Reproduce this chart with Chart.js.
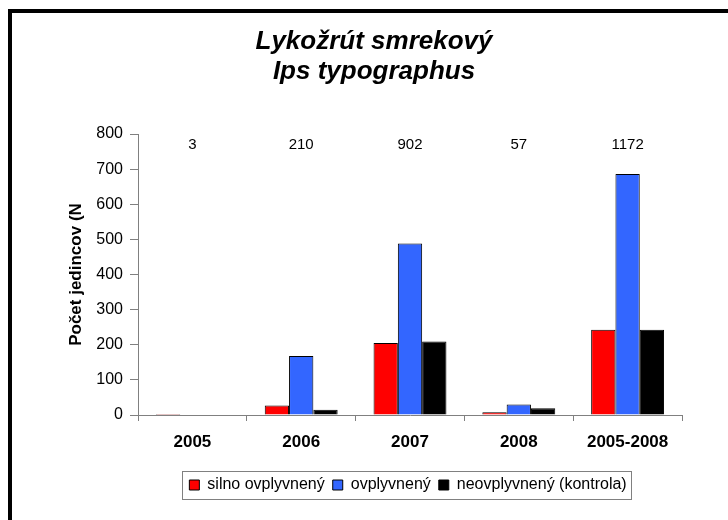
<!DOCTYPE html>
<html><head><meta charset="utf-8">
<script src="https://cdn.jsdelivr.net/npm/chart.js@4.4.1/dist/chart.umd.min.js"></script>
<style>
html,body{margin:0;padding:0;background:#fff;}
#wrap{width:728px;height:520px;position:relative;}
</style></head>
<body><div id="wrap"><canvas id="c" width="728" height="520"></canvas></div>
<script>
const categories = ['2005','2006','2007','2008','2005-2008'];
const silnoOvplyvneny = [3, 27, 205, 8, 243];
const ovplyvneny = [0, 168, 488, 30, 686];
const neovplyvneny = [0, 15, 209, 19, 243];
const totals = ['3','210','902','57','1172'];
const seriesNames = ['silno ovplyvnený','ovplyvnený','neovplyvnený (kontrola)'];
const yTicks = [0,100,200,300,400,500,600,700,800];

const FONT = 'Liberation Sans, Arial, sans-serif';

const framePlugin = {
  id:'frame',
  afterLayout(chart){
    const lg = chart.legend;
    if(lg){ lg.left += 34; lg.right += 34; }
  },
  beforeDraw(chart){
    const ctx = chart.ctx;
    ctx.save();
    ctx.fillStyle='#fff';
    ctx.fillRect(0,0,chart.width,chart.height);
    ctx.fillStyle='#000';
    ctx.fillRect(8,9,720,4);
    ctx.fillRect(8,9,4,511);
    ctx.restore();
  }
};

const totalsPlugin = {
  id:'totals',
  afterDatasetsDraw(chart){
    const ctx = chart.ctx, x = chart.scales.x;
    ctx.save();
    ctx.font = '15px '+FONT;
    ctx.fillStyle='#000';
    ctx.textAlign='center';
    ctx.textBaseline='middle';
    totals.forEach((t,i)=>{ ctx.fillText(t, x.getPixelForValue(i), chart.chartArea.top+11); });
    ctx.restore();
  }
};

const legendBorder = {
  id:'legendBorder',
  afterDraw(chart){
    const lg = chart.legend;
    if(!lg || !lg.legendHitBoxes.length) return;
    const hb = lg.legendHitBoxes;
    const l = hb[0].left - 7, r = hb[hb.length-1].left + hb[hb.length-1].width + 5;
    const t = hb[0].top - 6, b = hb[0].top + hb[0].height + 6;
    const ctx = chart.ctx;
    ctx.save();
    ctx.strokeStyle='#808080';
    ctx.lineWidth=1;
    ctx.strokeRect(Math.round(l)+0.5, Math.round(t)+0.5, Math.round(r-l), Math.round(b-t));
    ctx.restore();
  }
};

new Chart(document.getElementById('c'), {
  type:'bar',
  data:{
    labels: categories,
    datasets:[
      {label:seriesNames[0], data:silnoOvplyvneny, backgroundColor:'#ff0000', borderColor:'#000', borderWidth:1},
      {label:seriesNames[1], data:ovplyvneny, backgroundColor:'#3366ff', borderColor:'#000', borderWidth:1},
      {label:seriesNames[2], data:neovplyvneny, backgroundColor:'#000000', borderColor:'#000', borderWidth:1}
    ]
  },
  options:{
    responsive:false,
    animation:false,
    devicePixelRatio:1,
    layout:{padding:{left:66, right:46, top:14, bottom:17}},
    datasets:{bar:{categoryPercentage:0.67, barPercentage:1.0}},
    plugins:{
      title:{display:true, text:['Lykožrút smrekový','Ips typographus'], color:'#000',
        font:{family:FONT, size:26, weight:'bold', style:'italic', lineHeight:1.154},
        padding:{top:13, bottom:47}},
      legend:{display:true, position:'bottom',
        labels:{color:'#000', font:{family:FONT, size:16}, boxWidth:10, boxHeight:10, padding:8}},
      tooltip:{enabled:false}
    },
    scales:{
      x:{
        grid:{display:true, drawOnChartArea:false, color:'#808080', tickLength:6, offset:true},
        border:{color:'#808080', width:1},
        ticks:{color:'#000', font:{family:FONT, size:17, weight:'bold'}, padding:11, maxRotation:0},
        afterFit(s){ s.height = 54; }
      },
      y:{
        min:0, max:800,
        afterBuildTicks(s){ s.ticks = yTicks.map(v=>({value:v})); },
        grid:{display:true, drawOnChartArea:false, color:'#808080', tickLength:8},
        border:{color:'#808080', width:1},
        ticks:{color:'#000', font:{family:FONT, size:16}, padding:7},
        title:{display:true, text:'Počet jedincov (N', color:'#000', font:{family:FONT, size:17, weight:'bold'}, padding:{top:0,bottom:8}},
        afterFit(s){ s.width = 72; }
      }
    }
  },
  plugins:[framePlugin, totalsPlugin, legendBorder]
});
</script></body></html>
